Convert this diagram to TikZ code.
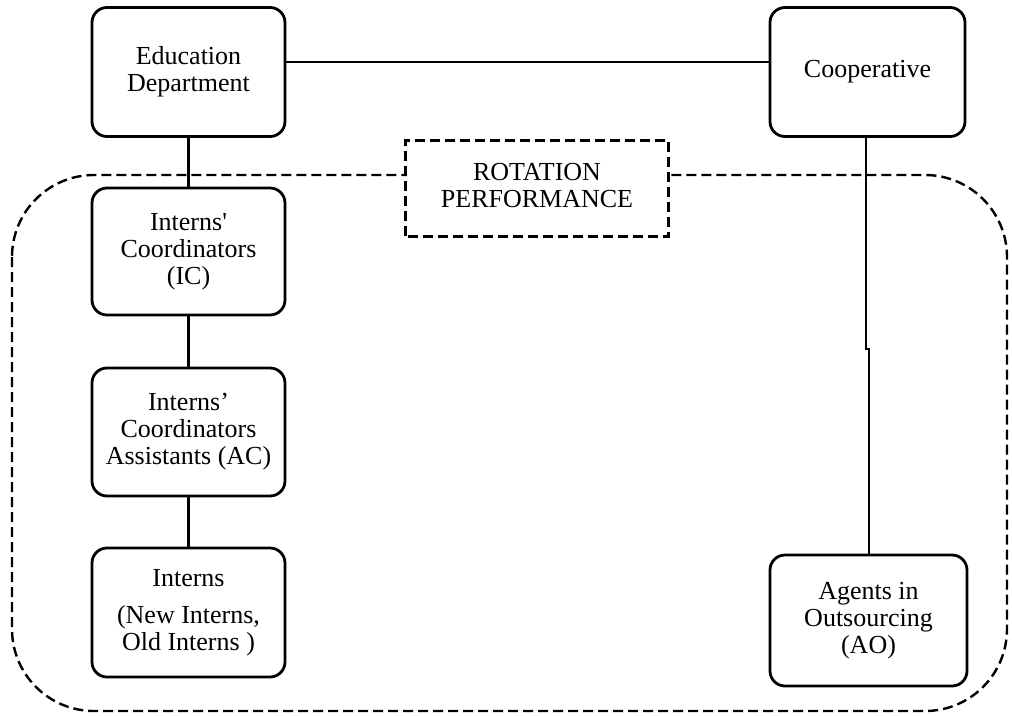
\documentclass[tikz,border=0pt]{standalone}
\usepackage{fontspec}
\setmainfont{Liberation Serif}
% same face without the TeX quote mapping, for a straight apostrophe
\newfontfamily\straightserif{Liberation Serif}
\begin{document}
\begin{tikzpicture}[x=1pt,y=-1pt,
  orgbox/.style={draw, line width=2.8pt, rounded corners=15pt, fill=white,
    align=center, inner sep=0pt, font=\fontsize{26}{27}\selectfont},
  link/.style={line width=2.8pt},
  zone/.style={line width=2.4pt, dash pattern=on 10pt off 5pt}]
\useasboundingbox (0,0) rectangle (1012,715);

% dashed rotation area
\draw[zone, rounded corners=82pt] (12,175) rectangle (1007,711);

% boxes
\node[orgbox, minimum width=193pt, minimum height=129pt] (ed) at (188.5,72) {Education\\Department};
\node[orgbox, minimum width=195pt, minimum height=129pt] (coop) at (867.5,72) {Cooperative};
\node[orgbox, minimum width=193pt, minimum height=127pt] (ic) at (188.5,251.5) {Interns{\straightserif '}\\Coordinators\\(IC)};
\node[orgbox, minimum width=193pt, minimum height=128pt] (ac) at (188.5,432) {Interns’\\Coordinators\\Assistants (AC)};
\node[orgbox, minimum width=193pt, minimum height=129pt] (in) at (188.5,612.5) {Interns\\[10pt](New Interns,\\Old Interns )};
\node[orgbox, minimum width=197pt, minimum height=131pt] (ao) at (868.5,620.5) {Agents in\\Outsourcing\\(AO)};
\node[orgbox, draw=none, rounded corners=0pt, minimum width=260pt, minimum height=93pt] (rot) at (537,188.5) {};
\draw[zone] (rot.south west) rectangle (rot.north east);
\node[align=center, inner sep=0pt, font=\fontsize{26}{27}\selectfont] (rottext) at (537,186) {ROTATION\\PERFORMANCE};

% connectors
\draw[link] (ed.south) -- (ic.north);
\draw[link] (ic.south) -- (ac.north);
\draw[link] (ac.south) -- (in.north);
\draw[link] ([yshift=10pt]ed.east) -- ([yshift=10pt]ed.east -| coop.west);
\coordinate (j1) at (866,349);
\coordinate (j2) at (869,349);
\draw[link] (coop.south -| j1) -- (j1) -- (j2) -- (ao.north -| j2);
\end{tikzpicture}
\end{document}
